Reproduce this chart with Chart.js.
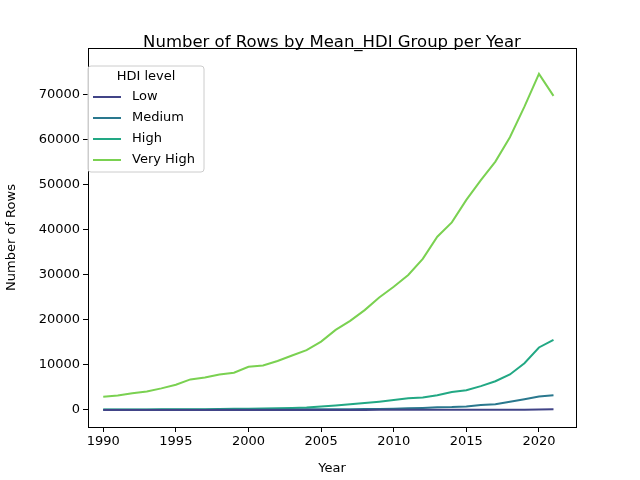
<!DOCTYPE html>
<html><head><meta charset="utf-8">
<script src="https://cdn.jsdelivr.net/npm/chart.js@4/dist/chart.umd.min.js"></script>
<style>html,body{margin:0;background:#fff}#w{width:640px;height:480px}</style>
</head><body><div id="w"><canvas id="c"></canvas></div>
<script>
const years = [1990,1991,1992,1993,1994,1995,1996,1997,1998,1999,2000,2001,2002,2003,2004,2005,2006,2007,2008,2009,2010,2011,2012,2013,2014,2015,2016,2017,2018,2019,2020,2021];
const low = [10,10,10,10,10,10,10,10,10,10,15,15,15,15,20,20,20,25,25,30,30,35,35,40,40,45,50,60,70,80,120,150];
const medium = [60,60,60,60,70,70,80,80,90,90,100,110,120,130,140,150,170,190,210,240,300,370,450,600,650,800,1100,1300,1850,2400,3000,3300];
const high = [100,110,120,130,140,150,170,190,210,250,300,350,400,450,550,800,1000,1260,1550,1850,2200,2600,2800,3300,4000,4400,5300,6400,7900,10400,13900,15600];
const veryHigh = [2950,3200,3700,4100,4800,5600,6800,7200,7900,8300,9600,9900,10900,12100,13300,15200,17800,19800,22200,25000,27400,30000,33600,38500,41700,46700,51100,55200,60600,67400,74700,69800];
const xTicks = [1990,1995,2000,2005,2010,2015,2020];
const yTicks = [0,10000,20000,30000,40000,50000,60000,70000];
const names = ['Low','Medium','High','Very High'];
const colors = ['#414487','#2a788e','#22a884','#7ad151'];
const series = [low, medium, high, veryHigh];
const F = 'DejaVu Sans';
const font = {family:F, size:13};
Chart.defaults.font = font;
Chart.defaults.color = '#000';
const tickGrid = {display:true, drawOnChartArea:false, drawTicks:true, tickLength:5, color:'#000'};
new Chart(document.getElementById('c'), {
  type:'line',
  data:{datasets: series.map((s,i)=>({label:names[i], data:years.map((y,j)=>({x:y,y:s[j]})), borderColor:colors[i], backgroundColor:colors[i], borderWidth:2, pointRadius:0, tension:0}))},
  options:{
    responsive:true, maintainAspectRatio:false, animation:false,
    layout:{padding:{top:48,right:64,left:0,bottom:0}},
    plugins:{title:{display:false}, legend:{display:false}, tooltip:{enabled:false}},
    scales:{
      x:{type:'linear', min:1988.95, max:2022.55, grid:tickGrid, border:{color:'#000'},
        afterBuildTicks(s){s.ticks=xTicks.map(v=>({value:v}));},
        ticks:{callback:v=>String(v), font, color:'#000', padding:2, maxRotation:0},
        title:{display:true, text:'Year', font, color:'#000', padding:{top:2}},
        afterFit(s){s.height=53;}},
      y:{min:-3778, max:80444, grid:tickGrid, border:{color:'#000'},
        afterBuildTicks(s){s.ticks=yTicks.map(v=>({value:v}));},
        ticks:{callback:v=>String(v), font, color:'#000', padding:3},
        title:{display:true, text:'Number of Rows', font, color:'#000', padding:{bottom:4}},
        afterFit(s){s.width=88;}}
    }
  },
  plugins:[{id:'t', afterDraw(ch){const c=ch.ctx;c.save();
    c.font='16.5px '+F;c.fillStyle='#000';c.textAlign='center';c.textBaseline='middle';
    c.fillText('Number of Rows by Mean_HDI Group per Year',332,43);
    const a=ch.chartArea;c.strokeStyle='#000';c.lineWidth=1;c.strokeRect(a.left+0.5,a.top+0.5,a.right-a.left,a.bottom-a.top);
    // legend
    c.fillStyle='rgba(255,255,255,0.8)';c.strokeStyle='#ccc';
    c.beginPath();c.roundRect(88,66,116,106,3);c.fill();c.stroke();
    c.fillStyle='#000';c.font='13px '+F;c.textAlign='center';c.fillText('HDI level',146,77);
    c.textAlign='left';
    names.forEach((n,i)=>{const y=97+i*21;c.strokeStyle=colors[i];c.lineWidth=2;c.beginPath();c.moveTo(93,y);c.lineTo(121,y);c.stroke();c.fillStyle='#000';c.fillText(n,132,y);});
    c.restore();}}]
});
</script></body></html>
